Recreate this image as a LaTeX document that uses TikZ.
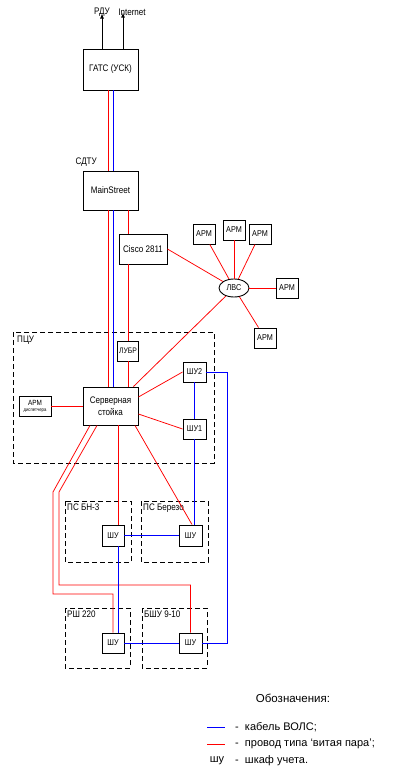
\documentclass[tikz,border=0pt]{standalone}
\usepackage{fontspec}
\setmainfont{Liberation Sans}
\newfontfamily\narrowfont[FakeStretch=0.85]{Liberation Sans}
\usetikzlibrary{calc}
\usetikzlibrary{shapes.geometric}

\begin{document}
\begin{tikzpicture}[x=1pt,y=-1pt]
\tikzset{
    box/.style={draw,fill=white,line width=0.9pt,inner sep=0pt,align=center,
        font=\narrowfont\fontsize{9.5}{12}\selectfont},
    shu/.style={box,minimum width=22pt,minimum height=20pt,
        font=\narrowfont\fontsize{8.5}{9}\selectfont},
    arm/.style={box,minimum width=22pt,minimum height=20pt,
        font=\narrowfont\fontsize{8.5}{9}\selectfont},
    zone/.style={draw,line width=0.9pt,dash pattern=on 5pt off 3pt},
    zonelabel/.style={anchor=north west,inner sep=0pt,
        font=\narrowfont\fontsize{9.5}{10}\selectfont},
    vols/.style={blue,line width=0.75pt},
    pair/.style={red,line width=0.75pt},
    legend/.style={anchor=west,inner sep=0pt,font=\fontsize{11}{12}\selectfont},
}
\useasboundingbox (0,0) rectangle (411,776);

% zones
\draw[zone] (13,332) rectangle (214,463);
\node[zonelabel] (pcu) at (17,336) {ПЦУ};
\draw[zone] (65,501) rectangle (131,562);
\node[zonelabel] (bn) at (67,504) {ПС БН-3};
\draw[zone] (141,501) rectangle (208,562);
\node[zonelabel] (bereza) at (143,504) {ПС Березо};
\draw[zone] (65,608) rectangle (130,668);
\node[zonelabel] (rsh) at (67,611) {РШ 220};
\draw[zone] (142,608) rectangle (207,668);
\node[zonelabel] (bshu) at (144,611) {БШУ 9-10};

% main chain
\node[box,minimum width=55pt,minimum height=41pt] (gats) at (110.5,69.5) {ГАТС (УСК)};
\node[box,minimum width=55pt,minimum height=39pt] (main) at (110.5,190.5) {MainStreet};
\node[anchor=south east,inner sep=0pt,font=\narrowfont\fontsize{9.5}{10}\selectfont] (sdtu) at (97,167) {СДТУ};
\node[box,minimum width=48pt,minimum height=30pt] (cisco) at (143,249) {Cisco 2811};
\node[box,minimum width=21pt,minimum height=20pt,font=\narrowfont\fontsize{8}{9}\selectfont] (lubr) at (128,351) {ЛУБР};
\node[box,minimum width=55pt,minimum height=38pt] (srv) at (110.5,406) {Серверная\\стойка};
\node[box,minimum width=32pt,minimum height=20pt,font=\narrowfont\fontsize{7.5}{6.5}\selectfont] (armd) at (35,406)
    {АРМ\\[-0.5pt]{\fontsize{5}{5}\selectfont диспетчера}};

% outside links
\node[inner sep=0pt,font=\narrowfont\fontsize{9.5}{10}\selectfont] (rdu) at (102,12) {РДУ};
\node[inner sep=0pt,font=\narrowfont\fontsize{9.5}{10}\selectfont] (inet) at (132,12) {Internet};
\draw[line width=0.8pt,-latex] ($(gats.north)+(-8.5,0)$) -- ($(rdu.south)+(0,-3)$);
\draw[line width=0.8pt,-latex] ($(gats.north)+(12.5,0)$) -- ($(inet.south)+(-9,-3)$);

% LAN
\node[draw,ellipse,fill=white,line width=0.9pt,minimum width=30pt,minimum height=18pt,inner sep=0pt,
    font=\narrowfont\fontsize{8.5}{9}\selectfont] (lvs) at (234,288) {ЛВС};
\foreach \i/\X/\Y in {1/204/234, 2/234/230, 3/260/234, 4/287/288, 5/265/338}{
    \node[arm] (arm\i) at (\X,\Y) {АРМ};
    \draw[pair] (lvs) -- (arm\i);
}
\draw[pair] (cisco.east) -- (lvs);
\draw[pair] ($(srv.north east)+(-5,0)$) -- (lvs);

% meter cabinets
\node[shu,minimum width=23pt] (shu2) at (194.5,372) {ШУ2};
\node[shu,minimum width=23pt] (shu1) at (194.5,429) {ШУ1};
\node[shu,minimum height=21pt] (shua) at (113,535.5) {ШУ};
\node[shu,minimum width=23pt,minimum height=21pt] (shub) at (190.5,535.5) {ШУ};
\node[shu] (shuc) at (113,643) {ШУ};
\node[shu,minimum width=23pt] (shud) at (190.5,643) {ШУ};

% twisted pair
\draw[pair] ($(gats.south)+(-2.5,0)$) -- ($(main.north)+(-2.5,0)$);
\draw[pair] ($(main.south)+(-2.5,0)$) -- ($(srv.north)+(-2.5,0)$);
\draw[pair] ($(main.south)+(17.5,0)$) -- ($(cisco.north)+(-15,0)$);
\draw[pair] ($(cisco.south)+(-15,0)$) -- (lubr.north);
\draw[pair] (lubr.south) -- ($(srv.north)+(17.5,0)$);
\draw[pair] (armd.east) -- (srv.west);
\draw[pair] ($(srv.east)+(0,-9)$) -- (shu2.west);
\draw[pair] ($(srv.east)+(0,8)$) -- (shu1.west);
\draw[pair] ($(srv.south)+(-20.5,0)$) -- (53,492) -- (53,594) -| (shuc.north);
\draw[pair] ($(srv.south)+(-13.5,0)$) -- (59,492) -- (59,585) -| (shud.north);
\draw[pair] ($(srv.south)+(7.5,0)$) -- ($(shua.north)+(5,0)$);
\draw[pair] ($(srv.south)+(24.5,0)$) -- ($(shub.north)+(1.5,0)$);

% fibre
\draw[vols] ($(gats.south)+(2.5,0)$) -- ($(main.north)+(2.5,0)$);
\draw[vols] ($(main.south)+(2.5,0)$) -- ($(srv.north)+(2.5,0)$);
\draw[vols] (shu2.south) -- (shu1.north);
\draw[vols] (shu1.south) -- ($(shub.north)+(4,0)$);
\draw[vols] ($(shua.south)+(5,0)$) -- ($(shuc.north)+(5,0)$);
\draw[vols] (shua.east) -- (shub.west);
\draw[vols] (shuc.east) -- (shud.west);
\draw[vols] (shu2.east) -- ++(21,0) |- (shud.east);

% legend
\node[inner sep=0pt,font=\fontsize{11.5}{12}\selectfont] (legtitle) at (293,698) {Обозначения:};
\coordinate (lb) at (207,727);
\coordinate (lr) at (207,744);
\draw[vols] (lb) -- ++(18,0);
\draw[pair] (lr) -- ++(18,0);
\node[legend] (legb) at (235,727) {-\ \ кабель ВОЛС;};
\node[legend] (legr) at (235,744) {-\ \ провод типа ‘витая пара’;};
\node[inner sep=0pt,font=\fontsize{11}{12}\selectfont] (legs) at (217,761) {шу};
\node[legend] (legsd) at (235,761) {-\ \ шкаф учета.};

\end{tikzpicture}
\end{document}
